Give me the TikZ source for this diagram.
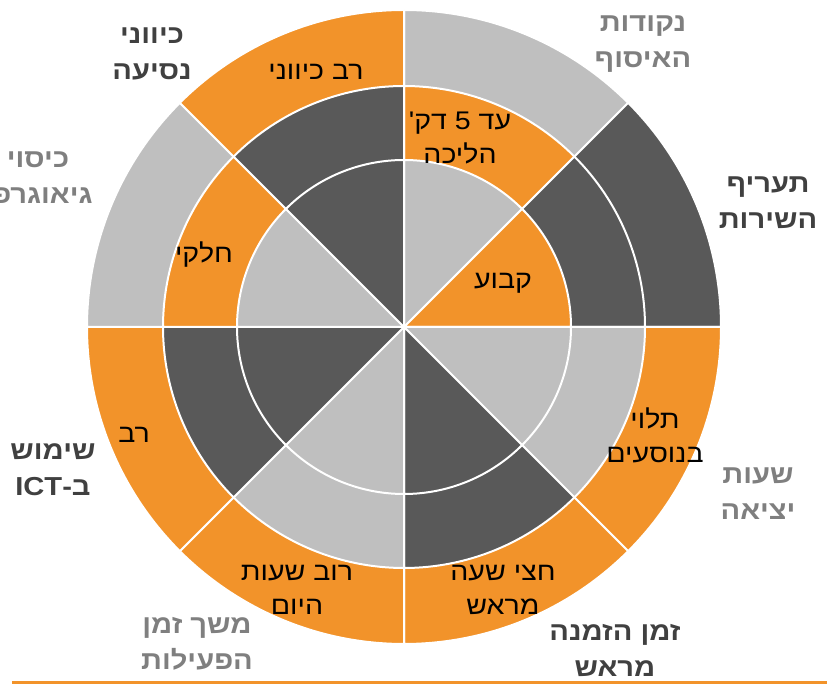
\documentclass[tikz,border=0pt]{standalone}
\usepackage{fontspec}
\setmainfont{Liberation Sans}
\newfontfamily\hebfont[Script=Hebrew, FakeStretch=1.12]{Liberation Sans}
\TeXXeTstate=1
\newcommand{\heb}[1]{\beginR #1\endR}
\definecolor{myorange}{HTML}{F2932A}
\definecolor{mydark}{HTML}{595959}
\definecolor{mylight}{HTML}{BFBFBF}
\definecolor{labdark}{HTML}{404040}
\definecolor{lablight}{HTML}{7F7F7F}
\newcommand{\wedgefill}[4]{\filldraw[wedge, fill=#1] (c) -- ++(#2:#4) arc[start angle=#2, end angle=#3, radius=#4] -- cycle;}
\begin{document}
\begin{tikzpicture}[x=1pt,y=1pt,
  wedge/.style={draw=white, line width=2pt, line join=round},
  intext/.style={font=\hebfont\fontsize{25.5}{34}\selectfont, text=black, align=center, inner sep=0pt},
  outdark/.style={font=\hebfont\bfseries\fontsize{26}{36}\selectfont, text=labdark, align=center, inner sep=0pt},
  outlight/.style={font=\hebfont\bfseries\fontsize{26}{36}\selectfont, text=lablight, align=center, inner sep=0pt}]
\useasboundingbox (0,0) rectangle (827,685);
\coordinate (c) at (404,358);
% outer ring
\wedgefill{mylight}{45}{90}{317pt}
\wedgefill{mydark}{0}{45}{317pt}
\wedgefill{myorange}{-45}{0}{317pt}
\wedgefill{myorange}{-90}{-45}{317pt}
\wedgefill{myorange}{-135}{-90}{317pt}
\wedgefill{myorange}{180}{225}{317pt}
\wedgefill{mylight}{135}{180}{317pt}
\wedgefill{myorange}{90}{135}{317pt}
% middle ring
\wedgefill{myorange}{45}{90}{241pt}
\wedgefill{mydark}{0}{45}{241pt}
\wedgefill{mylight}{-45}{0}{241pt}
\wedgefill{mydark}{-90}{-45}{241pt}
\wedgefill{mylight}{-135}{-90}{241pt}
\wedgefill{mydark}{180}{225}{241pt}
\wedgefill{myorange}{135}{180}{241pt}
\wedgefill{mydark}{90}{135}{241pt}
% inner ring
\wedgefill{mylight}{45}{90}{167pt}
\wedgefill{myorange}{0}{45}{167pt}
\wedgefill{mylight}{-45}{0}{167pt}
\wedgefill{mydark}{-90}{-45}{167pt}
\wedgefill{mylight}{-135}{-90}{167pt}
\wedgefill{mydark}{180}{225}{167pt}
\wedgefill{mylight}{135}{180}{167pt}
\wedgefill{mydark}{90}{135}{167pt}
% ring texts
\node[intext] (t1) at (460,547) {\heb{עד 5 דק'}\\\heb{הליכה}};
\node[intext] (t2) at (503,402) {\heb{קבוע}};
\node[intext] (t3) at (655,250) {\heb{תלוי}\\\heb{בנוסעים}};
\node[intext] (t4) at (503,95) {\heb{חצי שעה}\\\heb{מראש}};
\node[intext] (t5) at (297,95) {\heb{רוב שעות}\\\heb{היום}};
\node[intext] (t6) at (134,250) {\heb{רב}};
\node[intext] (t7) at (204,430) {\heb{חלקי}};
\node[intext] (t8) at (316,613) {\heb{רב כיווני}};
% outer labels
\node[outlight] (l1) at (643,641) {\heb{נקודות}\\\heb{האיסוף}};
\node[outdark] (l2) at (768,482) {\heb{תעריף}\\\heb{השירות}};
\node[outlight] (l3) at (758,191) {\heb{שעות}\\\heb{יציאה}};
\node[outdark] (l4) at (615,35) {\heb{זמן הזמנה}\\\heb{מראש}};
\node[outlight] (l5) at (197,41) {\heb{משך זמן}\\\heb{הפעילות}};
\node[outdark] (l6) at (53,215) {\heb{שימוש}\\\heb{ב-\beginL ICT\endL}};
\node[outlight] (l7) at (38,507) {\heb{כיסוי}\\\heb{גיאוגרפי}};
\node[outdark] (l8) at (152,631) {\heb{כיווני}\\\heb{נסיעה}};
% bottom rule
\coordinate (b1) at (12,2);
\coordinate (b2) at (827,2);
\draw[myorange, line width=3pt] (b1) -- (b2);
\end{tikzpicture}
\end{document}
